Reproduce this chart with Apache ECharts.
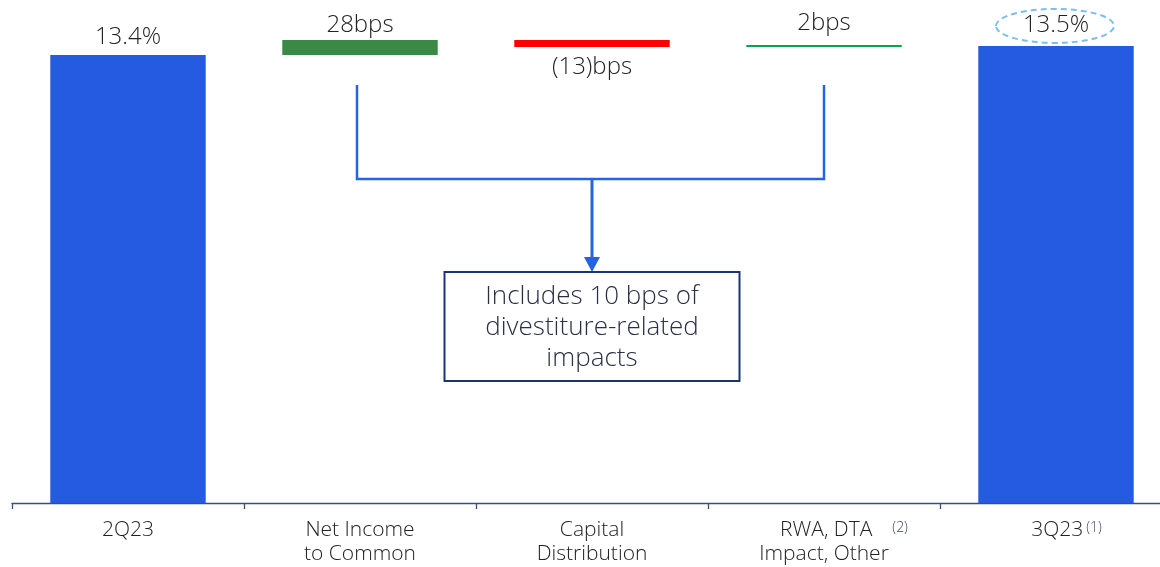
<!DOCTYPE html>
<html><head><meta charset="utf-8">
<script src="https://cdn.jsdelivr.net/npm/echarts@6/dist/echarts.min.js"></script>
<style>html,body{margin:0;padding:0;background:#fff}#c{width:1160px;height:567px}</style>
</head><body><div id="c"></div>
<script>
const categories = ['2Q23', 'Net Income\nto Common', 'Capital\nDistribution', 'RWA, DTA\nImpact, Other', '3Q23'];
const startValue = 13.4;          // %
const deltas = [0.28, -0.13, 0.02]; // percentage points (28bps, (13)bps, 2bps)
const endValue = 13.57;           // %, shown as 13.5%
const valueLabels = ['13.4%', '28bps', '(13)bps', '2bps', '13.5%'];
const footnotes = ['', '', '', '(2)', '(1)'];
const noteLines = ['Includes 10 bps of', 'divestiture-related', 'impacts'];

const FONT = '"Open Sans", "Noto Sans", sans-serif';
const W = 300;
const colors = ['#245BE0', '#3A8A45', '#FF0000', '#00A651', '#245BE0'];
const labelPos = ['top', 'top', 'bottom', 'top', 'top'];
const labelDist = [6, 3, 8, 10, 9];

// build waterfall base / visible arrays from the data
const base = [0];
const vis = [startValue];
let running = startValue;
deltas.forEach(d => {
  if (d >= 0) { base.push(running); vis.push(d); }
  else { base.push(running + d); vis.push(-d); }
  running += d;
});
base.push(0); vis.push(endValue);

const chart = echarts.init(document.getElementById('c'), null, {renderer: 'canvas'});

const axisLabelRich = {
  a: {fontFamily: FONT, fontWeight: W, fontSize: 21, color: '#222', lineHeight: 24},
  sp2: {width: 40, fontSize: 21, lineHeight: 24},
  sp1: {width: 21, fontSize: 21, lineHeight: 24},
  sup2: {fontFamily: FONT, fontWeight: W, fontSize: 14, color: '#3C4660', padding: [0, 0, 4, 20], lineHeight: 24},
  sup1: {fontFamily: FONT, fontWeight: W, fontSize: 14, color: '#3C4660', padding: [0, 0, 4, 3], lineHeight: 24}
};

chart.setOption({
  animation: false,
  grid: {left: 12, width: 1160, top: 23, height: 480, outerBoundsMode: 'none', containLabel: false},
  xAxis: {
    type: 'category',
    data: categories,
    boundaryGap: true,
    axisLine: {lineStyle: {color: '#3B4F7E', width: 1.3}},
    axisTick: {show: true, length: 6, alignWithLabel: false, lineStyle: {color: '#3B4F7E', width: 1.3}},
    axisLabel: {
      margin: 15,
      interval: 0,
      formatter: function (val, idx) {
        const lines = val.split('\n');
        const fn = footnotes[idx];
        if (fn === '(2)') {
          return '{sp2|}{a|' + lines[0] + '}{sup2|' + fn + '}\n{a|' + lines[1] + '}';
        }
        if (fn === '(1)') {
          return '{sp1|}{a|' + lines[0] + '}{sup1|' + fn + '}';
        }
        return lines.map(l => '{a|' + l + '}').join('\n');
      },
      rich: axisLabelRich
    }
  },
  yAxis: {type: 'value', min: 5, max: 14, show: false, splitLine: {show: false}},
  series: [
    {
      type: 'bar', stack: 'w', data: base, barWidth: '67%',
      itemStyle: {color: 'transparent'}, silent: true
    },
    {
      type: 'bar', stack: 'w', barWidth: '67%', barMinHeight: 2,
      data: vis.map((v, i) => ({
        value: v,
        itemStyle: {color: colors[i]},
        label: {
          show: true, position: labelPos[i], distance: labelDist[i],
          formatter: valueLabels[i],
          fontFamily: FONT, fontWeight: W, fontSize: 24, color: '#222'
        }
      }))
    }
  ]
});

function cx(i) { return chart.convertToPixel({xAxisIndex: 0}, i); }
function py(v) { return chart.convertToPixel({yAxisIndex: 0}, v); }

const xL = cx(1) - 3, xM = cx(2), xR = cx(3), x5 = cx(4);
const yTop = 85, yBr = 179, boxTop = 272, boxH = 109, boxW = 295;
const blue = '#2563E0';
const labelY = py(endValue) - 9 - 12;

chart.setOption({
  graphic: [
    {type: 'polyline', shape: {points: [[xL, yTop], [xL, yBr], [xR, yBr], [xR, yTop]]},
     style: {stroke: blue, lineWidth: 2.5, fill: null}},
    {type: 'line', shape: {x1: xM, y1: yBr, x2: xM, y2: boxTop - 12},
     style: {stroke: blue, lineWidth: 3}},
    {type: 'polygon', shape: {points: [[xM - 8, boxTop - 15], [xM + 8, boxTop - 15], [xM, boxTop]]},
     style: {fill: blue}},
    {type: 'rect', shape: {x: xM - boxW / 2, y: boxTop, width: boxW, height: boxH},
     style: {fill: '#fff', stroke: '#1B3570', lineWidth: 2}},
    {type: 'text', x: xM, y: boxTop + boxH / 2 + 1,
     style: {text: noteLines.join('\n'), fontFamily: FONT, fontWeight: W, fontSize: 26, lineHeight: 31,
             fill: '#2A2F45', align: 'center', verticalAlign: 'middle'}},
    {type: 'ellipse', shape: {cx: x5 - 1, cy: labelY + 1, rx: 59, ry: 17},
     style: {fill: null, stroke: '#7CBDF2', lineWidth: 2, lineDash: [6, 4]}}
  ]
});
</script>
</body></html>
